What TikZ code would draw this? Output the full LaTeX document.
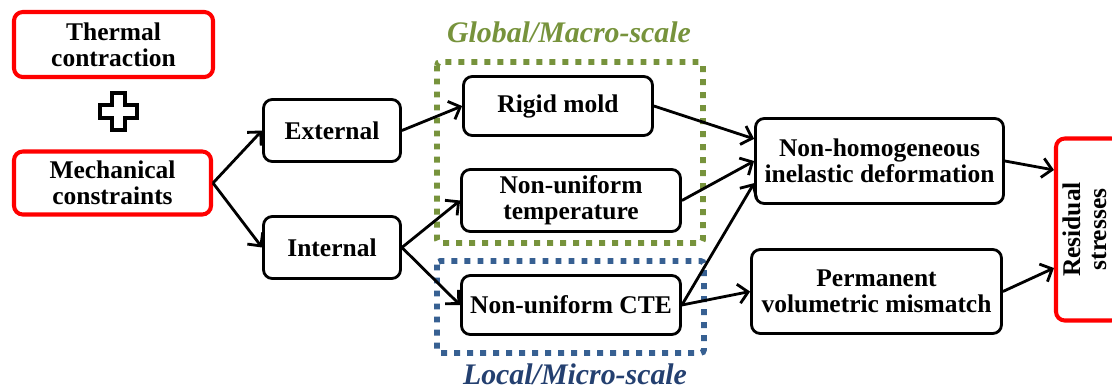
\documentclass[tikz,border=0pt]{standalone}
\usepackage{fontspec}
\setmainfont{Liberation Serif}
\usepackage{xcolor}
\definecolor{boxred}{RGB}{255, 0, 0}
\definecolor{macrogreen}{RGB}{119, 147, 60}
\definecolor{microblue}{RGB}{55, 96, 146}
\definecolor{microtext}{RGB}{36, 64, 112}
\usepackage{tikz}
\usetikzlibrary{arrows.meta, calc}

\begin{document}
\begin{tikzpicture}[x=0.02cm, y=-0.02cm,
    txt/.style={font=\fontsize{14.5}{14.8}\selectfont\bfseries, align=center, inner sep=0pt},
    boxsize/.style 2 args={minimum width=#1*0.02cm, minimum height=#2*0.02cm},
    redbox/.style={txt, draw=boxred, line width=2.3pt, rounded corners=5pt},
    blackbox/.style={txt, draw=black, line width=1.6pt, rounded corners=5pt},
    link/.style={-{Straight Barb[length=5.5pt, width=11pt]}, line width=1.6pt},
    scalebox/.style={line width=3.4pt, dash pattern=on 3.4pt off 4pt, rounded corners=2pt},
    scalelabel/.style={font=\fontsize{17}{19}\selectfont\bfseries\itshape}]
      \clip (0,0) rectangle (1112,389);
      % Scale regions
      \draw[scalebox, macrogreen] (437,62) rectangle (703,243);
      \draw[scalebox, microblue] (437,261) rectangle (704,353);
      \node[scalelabel, macrogreen] (macro) at (569,32) {Global/Macro-scale};
      \node[scalelabel, microtext] (micro) at (575,374) {Local/Micro-scale};
      % Sources
      \node[redbox, boxsize={199}{65}] (thermal) at (113.5,44.5) {Thermal\\contraction};
      \node[redbox, boxsize={197}{63}] (mech) at (112.5,183) {Mechanical\\constraints};
      \draw[line width=2.3pt, shift={(118.5,111.5)}] (-6.5,-18.5) -- (6.5,-18.5) -- (6.5,-6.5) -- (18.5,-6.5)
        -- (18.5,6.5) -- (6.5,6.5) -- (6.5,18.5) -- (-6.5,18.5) -- (-6.5,6.5) -- (-18.5,6.5) -- (-18.5,-6.5)
        -- (-6.5,-6.5) -- cycle;
      % Constraint type
      \node[blackbox, boxsize={137}{62}] (ext) at (332,130.5) {External};
      \node[blackbox, boxsize={137}{62}] (int) at (332,247.5) {Internal};
      % Causes
      \node[blackbox, boxsize={189}{59}] (rigid) at (558,106) {Rigid mold};
      \node[blackbox, boxsize={219}{62}] (temp) at (571,200.5) {Non-uniform\\temperature};
      \node[blackbox, boxsize={219}{59}] (cte) at (571,305) {Non-uniform CTE};
      % Effects
      \node[blackbox, boxsize={248}{85}] (nonhom) at (879.5,161) {Non-homogeneous\\inelastic deformation};
      \node[blackbox, boxsize={250}{84}] (perm) at (876.5,291.5) {Permanent\\volumetric mismatch};
      \node[redbox, boxsize={64}{182}] (resid) at (1088,229.5)
        {\rotatebox{90}{\begin{tabular}{@{}c@{}}Residual\\stresses\end{tabular}}};
      % Arrows
      \draw[link] (mech.east) -- (ext.west);
      \draw[link] (mech.east) -- (int.west);
      \draw[link] (ext.east) -- (rigid.west);
      \draw[link] (int.east) -- (temp.west);
      \draw[link] (int.east) -- (cte.west);
      \draw[link] (rigid.east) -- (nonhom.170);
      \draw[link] (temp.east) -- (nonhom.west);
      \draw[link] (cte.east) -- (nonhom.190);
      \draw[link] (cte.east) -- (perm.west);
      \draw[link] (nonhom.east) -- ($(resid.west)+(0,-59.5)$);
      \draw[link] (perm.east) -- ($(resid.west)+(0,38.5)$);
    \end{tikzpicture}
\end{document}
